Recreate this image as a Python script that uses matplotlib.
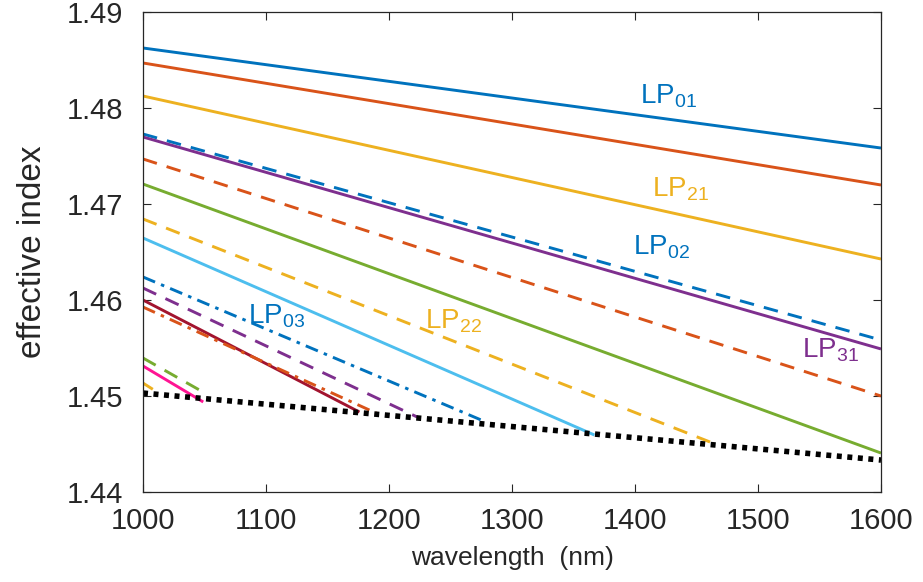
import matplotlib
matplotlib.use("Agg")
import matplotlib.pyplot as plt

plt.rcParams['font.family'] = ['Liberation Sans', 'DejaVu Sans']
plt.rcParams['mathtext.fontset'] = 'custom'
plt.rcParams['mathtext.rm'] = 'Liberation Sans'
plt.rcParams['mathtext.it'] = 'Liberation Sans:italic'

# Mode curves: wavelength (nm) start/end and effective index start/end
wl_start = [1000, 1000, 1000, 1000, 1000, 1000, 1000, 1000, 1000, 1000, 1000, 1000, 1000, 1000, 1000, 1000]
wl_end = [1600, 1600, 1600, 1600, 1600, 1600, 1600, 1461, 1367, 1275, 1223, 1176, 1193, 1046, 1049, 1008]
neff_start = [1.48625, 1.48469, 1.48125, 1.47729, 1.47698, 1.47469, 1.47208, 1.46844,
              1.46646, 1.46240, 1.46125, 1.46000, 1.45927, 1.45396, 1.45313, 1.45135]
neff_end = [1.47583, 1.47198, 1.46427, 1.45583, 1.45490, 1.45000, 1.44406, 1.44521,
            1.44594, 1.44750, 1.44781, 1.44833, 1.44802, 1.45062, 1.44938, 1.45070]
colors = ['#0072BD', '#D95319', '#EDB120', '#0072BD', '#7E2F8E', '#D95319', '#77AC30', '#EDB120',
          '#4DBEEE', '#0072BD', '#7E2F8E', '#A2142F', '#D95319', '#77AC30', '#FF1493', '#EDB120']
styles = ['-', '-', '-', '--', '-', '--', '-', '--', '-', '-.', '--', '-', '-.', '--', '-', '--']

# Cladding index line
clad_wl = [1000, 1600]
clad_n = [1.45031, 1.44333]

# Mode labels
label_text = ['01', '21', '02', '31', '22', '03']
label_x = [1404, 1414, 1398, 1536, 1229, 1085]
label_y = [1.48042, 1.47073, 1.46469, 1.45406, 1.45708, 1.45760]
label_colors = ['#0072BD', '#EDB120', '#0072BD', '#7E2F8E', '#EDB120', '#0072BD']

dash_styles = {'-': '-', '--': (0, (5, 3.5)), '-.': (0, (4.5, 2.2, 1.2, 2.2))}

fig = plt.figure(figsize=(9.23, 5.82), dpi=100)
ax = fig.add_axes([0.1549, 0.1546, 0.7996, 0.8248])

for xs, xe, ys, ye, c, ls in zip(wl_start, wl_end, neff_start, neff_end, colors, styles):
    ax.plot([xs, xe], [ys, ye], color=c, linestyle=dash_styles[ls], linewidth=2.1,
            dash_capstyle='butt', solid_capstyle='butt')

ax.plot(clad_wl, clad_n, color='black', linestyle=(0, (0.9, 1.0)), linewidth=4.0,
        dash_capstyle='butt')

for t, x, y, c in zip(label_text, label_x, label_y, label_colors):
    ax.text(x, y, r'LP$_{\mathrm{%s}}$' % t, color=c, fontsize=20, ha='left', va='baseline')

ax.set_xlim(1000, 1600)
ax.set_ylim(1.44, 1.49)
ax.set_xticks([1000, 1100, 1200, 1300, 1400, 1500, 1600])
ax.set_yticks([1.44, 1.45, 1.46, 1.47, 1.48, 1.49])
ax.set_yticklabels(['1.44', '1.45', '1.46', '1.47', '1.48', '1.49'])
ax.tick_params(direction='in', length=6, width=0.8, labelsize=21, colors='#262626',
               top=True, right=True)
ax.tick_params(axis='x', pad=11)
ax.tick_params(axis='y', pad=14)
for s in ax.spines.values():
    s.set_color('#262626')
    s.set_linewidth(0.9)

ax.set_xlabel('wavelength  (nm)', fontsize=19, color='#262626', labelpad=8)
ax.set_ylabel('effective index', fontsize=24, color='#262626', labelpad=14)

fig.savefig('out.png', dpi=100, facecolor='white')
